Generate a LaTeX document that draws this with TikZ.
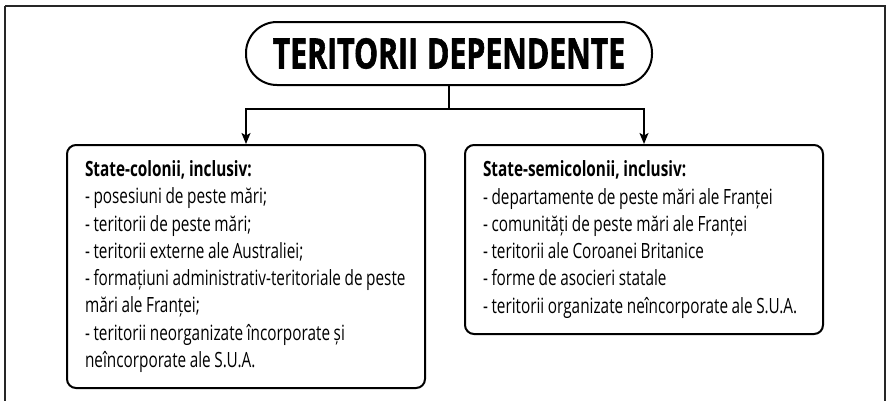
\documentclass[tikz,border=0pt]{standalone}
\usepackage{fontspec}
\setmainfont{Open Sans}[FakeStretch=0.73]
\newfontfamily\titlefont{Open Sans Bold}[FakeStretch=0.72,FakeBold=1.4]
\newcommand\mytitlesp{\spaceskip=9pt\relax}
\newcommand\mylistsp{\spaceskip=3.6pt plus 1pt minus 0.5pt\xspaceskip=3.8pt\relax}
\usetikzlibrary{arrows.meta}
\tikzset{
  frame/.style={draw=black!85,line width=1.8pt},
  titlebox/.style={draw,line width=2pt,rounded corners=31pt,minimum width=406pt,minimum height=63pt,inner sep=0pt,font=\titlefont\fontsize{42}{42}\selectfont\mytitlesp},
  listbox/.style={draw,line width=2pt,rounded corners=9pt,text width=322pt,inner xsep=18pt,align=left,font=\fontsize{21}{27.3}\selectfont},
  arr/.style={line width=1.5pt,-{Stealth[length=11pt,width=9pt,inset=2.5pt]}}
}
\begin{document}
\begin{tikzpicture}[x=1pt,y=-1pt]
\useasboundingbox (0,0) rectangle (890,400);
\draw[frame] (5,6) -- (885,6) -- (885,410) (5,410) -- (5,6);
\node[titlebox] (title) at (449,53.5) {TERITORII DEPENDENTE};
\node[listbox,minimum height=243pt,anchor=north] (left) at (246,144) {\mylistsp\mbox{\textbf{State-colonii, inclusiv:}}\\
\mbox{- posesiuni de peste mări;}\\
\mbox{- teritorii de peste mări;}\\
\mbox{- teritorii externe ale Australiei;}\\
\mbox{- formațiuni administrativ-teritoriale de peste}\\
\mbox{mări ale Franței;}\\
\mbox{- teritorii neorganizate încorporate și}\\
\mbox{neîncorporate ale S.U.A.}};
\node[listbox,minimum height=189pt,anchor=north] (right) at (644,144) {\mylistsp\mbox{\textbf{State-semicolonii, inclusiv:}}\\
\mbox{- departamente de peste mări ale Franței}\\
\mbox{- comunități de peste mări ale Franței}\\
\mbox{- teritorii ale Coroanei Britanice}\\
\mbox{- forme de asocieri statale}\\
\mbox{- teritorii organizate neîncorporate ale S.U.A.}};
\draw[arr] (title.south) -- (title.south |- 0,109) -| (left.north);
\draw[arr] (title.south) -- (title.south |- 0,109) -| (right.north);
\end{tikzpicture}
\end{document}
